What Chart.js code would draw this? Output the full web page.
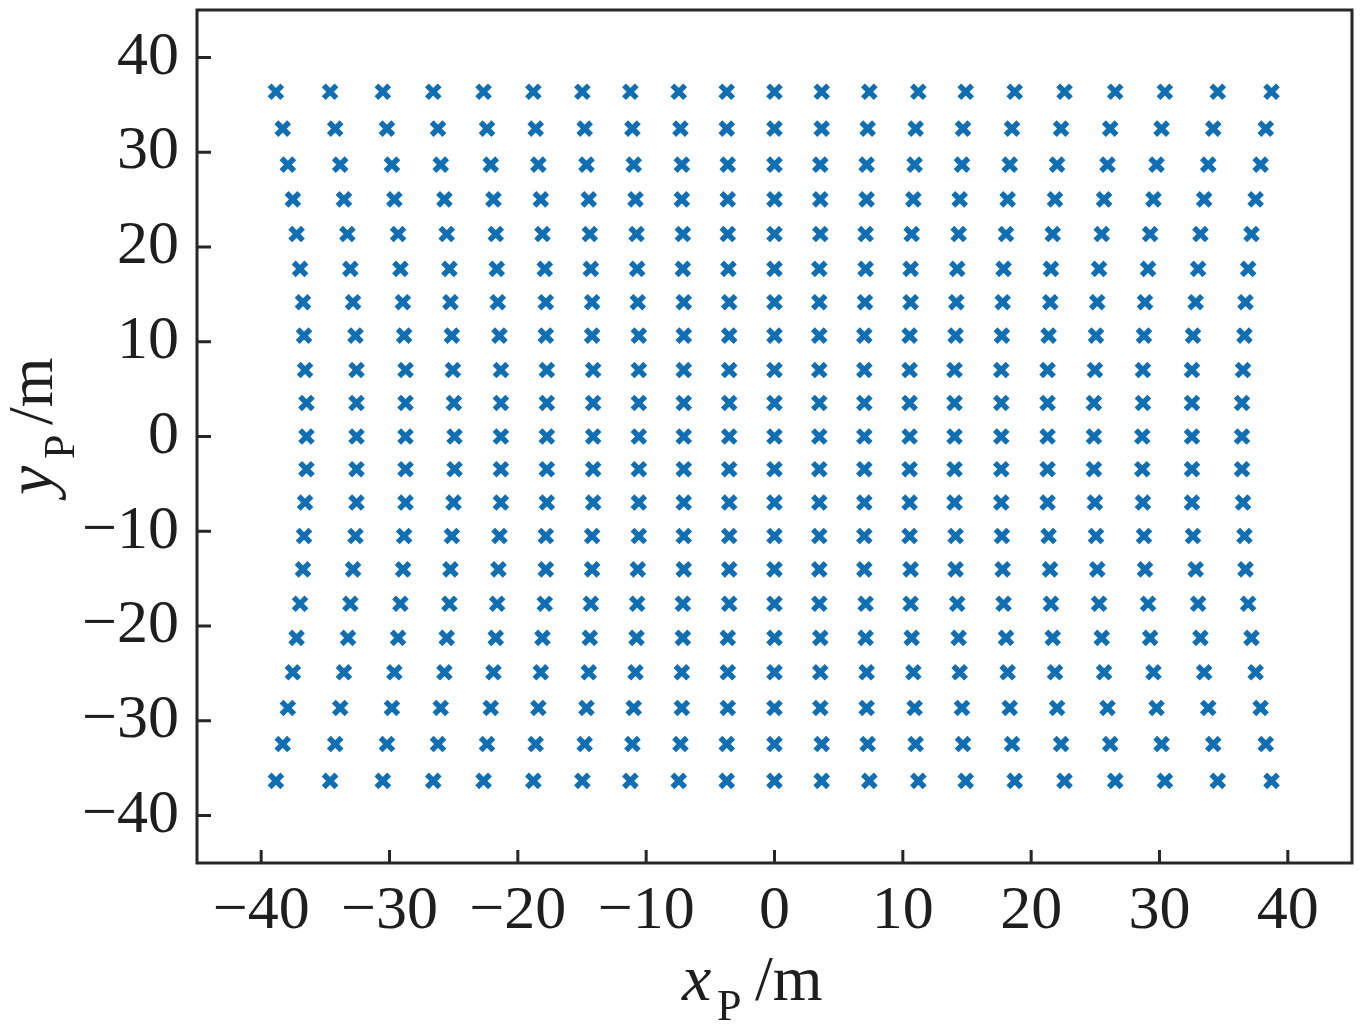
<!DOCTYPE html>
<html><head><meta charset="utf-8">
<script src="https://cdn.jsdelivr.net/npm/chart.js@4.4.1/dist/chart.umd.min.js"></script>
<style>html,body{margin:0;padding:0;background:#fff;} #wrap{width:1360px;height:1032px;position:relative;}</style>
</head><body><div id="wrap"><canvas id="c" width="1360" height="1032"></canvas></div>
<script>
// y_P level of each row of points (top to bottom), metres
const yLevels = [36.37, 32.49, 28.69, 25.02, 21.36, 17.69, 14.17, 10.64, 7.01, 3.53, 0,
                 -3.45, -6.97, -10.5, -14.02, -17.65, -21.25, -24.88, -28.64, -32.45, -36.33];
// x_P of the points in each row (left to right), metres
const xRow00 = [-38.85,-34.63,-30.52,-26.59,-22.67,-18.79,-14.97,-11.23,-7.46,-3.72,0,3.68,7.39,11.21,14.90,18.72,22.60,26.55,30.42,34.54,38.73];
const xRow01 = [-38.32,-34.23,-30.20,-26.22,-22.40,-18.61,-14.79,-11.07,-7.33,-3.72,0,3.68,7.26,11.00,14.69,18.51,22.33,26.16,30.16,34.19,38.28];
const xRow02 = [-37.92,-33.84,-29.81,-26.01,-22.11,-18.40,-14.65,-10.97,-7.22,-3.64,0,3.57,7.18,10.92,14.61,18.33,22.02,25.95,29.77,33.80,37.88];
const xRow03 = [-37.53,-33.55,-29.62,-25.72,-21.90,-18.21,-14.47,-10.83,-7.22,-3.64,0,3.57,7.18,10.82,14.43,18.17,21.86,25.68,29.53,33.48,37.49];
const xRow04 = [-37.24,-33.28,-29.33,-25.54,-21.72,-18.08,-14.39,-10.75,-7.14,-3.64,0,3.57,7.10,10.69,14.35,18.04,21.68,25.50,29.27,33.19,37.17];
const xRow05 = [-36.97,-33.05,-29.15,-25.33,-21.64,-17.90,-14.31,-10.70,-7.14,-3.59,0,3.49,7.10,10.61,14.24,17.85,21.54,25.29,29.11,33.01,36.91];
const xRow06 = [-36.74,-32.84,-28.96,-25.25,-21.56,-17.82,-14.21,-10.65,-7.07,-3.53,0,3.49,7.05,10.61,14.17,17.78,21.49,25.15,28.87,32.82,36.70];
const xRow07 = [-36.66,-32.65,-28.86,-25.14,-21.43,-17.82,-14.21,-10.57,-7.07,-3.53,0,3.49,7.00,10.53,14.11,17.72,21.36,25.05,28.79,32.61,36.62];
const xRow08 = [-36.58,-32.57,-28.75,-25.06,-21.32,-17.74,-14.13,-10.57,-7.07,-3.53,0,3.49,7.00,10.53,14.03,17.67,21.28,24.97,28.71,32.53,36.51];
const xRow09 = [-36.47,-32.57,-28.75,-24.98,-21.32,-17.74,-14.13,-10.57,-7.07,-3.53,0,3.49,7.00,10.53,14.03,17.67,21.28,24.89,28.71,32.53,36.43];
const xRow10 = [-36.47,-32.57,-28.75,-24.93,-21.32,-17.74,-14.13,-10.57,-7.07,-3.53,0,3.49,7.00,10.53,14.03,17.67,21.28,24.89,28.66,32.53,36.43];
const xRow11 = [-36.47,-32.57,-28.75,-24.93,-21.32,-17.74,-14.13,-10.57,-7.07,-3.53,0,3.49,7.00,10.53,14.03,17.67,21.28,24.89,28.66,32.53,36.43];
const xRow12 = [-36.58,-32.57,-28.75,-25.01,-21.32,-17.74,-14.13,-10.57,-7.07,-3.53,0,3.49,7.00,10.53,14.03,17.67,21.28,24.97,28.71,32.53,36.51];
const xRow13 = [-36.66,-32.65,-28.86,-25.14,-21.43,-17.82,-14.21,-10.57,-7.07,-3.53,0,3.49,7.00,10.53,14.11,17.72,21.36,25.05,28.79,32.61,36.62];
const xRow14 = [-36.74,-32.84,-28.94,-25.25,-21.51,-17.82,-14.21,-10.65,-7.07,-3.53,0,3.49,7.00,10.61,14.11,17.78,21.47,25.15,28.87,32.82,36.70];
const xRow15 = [-36.97,-33.05,-29.15,-25.33,-21.61,-17.90,-14.31,-10.70,-7.14,-3.53,0,3.49,7.10,10.61,14.24,17.85,21.54,25.29,29.11,33.01,36.91];
const xRow16 = [-37.24,-33.23,-29.33,-25.54,-21.72,-18.08,-14.39,-10.75,-7.14,-3.64,0,3.57,7.10,10.69,14.35,18.04,21.68,25.50,29.27,33.19,37.17];
const xRow17 = [-37.53,-33.55,-29.62,-25.72,-21.90,-18.21,-14.47,-10.83,-7.22,-3.64,0,3.57,7.18,10.82,14.43,18.17,21.86,25.68,29.53,33.48,37.49];
const xRow18 = [-37.92,-33.84,-29.81,-26.01,-22.11,-18.40,-14.65,-10.97,-7.22,-3.64,0,3.57,7.18,10.92,14.61,18.33,22.02,25.95,29.77,33.80,37.88];
const xRow19 = [-38.32,-34.23,-30.20,-26.22,-22.40,-18.61,-14.79,-11.07,-7.33,-3.72,0,3.68,7.26,11.00,14.69,18.51,22.33,26.16,30.16,34.19,38.28];
const xRow20 = [-38.85,-34.63,-30.52,-26.59,-22.67,-18.79,-14.97,-11.23,-7.46,-3.72,0,3.68,7.39,11.21,14.90,18.72,22.60,26.55,30.42,34.54,38.73];
const xRows = [xRow00,xRow01,xRow02,xRow03,xRow04,xRow05,xRow06,xRow07,xRow08,xRow09,xRow10,
               xRow11,xRow12,xRow13,xRow14,xRow15,xRow16,xRow17,xRow18,xRow19,xRow20];

const xTickValues = [-40,-30,-20,-10,0,10,20,30,40];
const yTickValues = [-40,-30,-20,-10,0,10,20,30,40];
const axisMin = -45, axisMax = 45;
const xTitle = ['x', 'P', '/m'];
const yTitle = ['y', 'P', '/m'];

const points = [];
yLevels.forEach((yv, i) => xRows[i].forEach(xv => points.push({x: xv, y: yv})));

const SERIF = '"Liberation Serif", "Times New Roman", serif';
const INK = '#1e1e1e';
const fmt = v => (v < 0 ? '\u2212' + Math.abs(v) : String(v));

const framePlugin = {
  id: 'frame',
  afterDraw(chart) {
    const {ctx, chartArea: a, scales: {x, y}} = chart;
    ctx.save();
    ctx.strokeStyle = '#262626';
    ctx.lineWidth = 3;
    ctx.lineCap = 'butt';
    ctx.strokeRect(a.left, a.top, a.right - a.left, a.bottom - a.top);
    ctx.beginPath();
    xTickValues.forEach(v => { const px = x.getPixelForValue(v); ctx.moveTo(px, a.bottom); ctx.lineTo(px, a.bottom - 13); });
    yTickValues.forEach(v => { const py = y.getPixelForValue(v); ctx.moveTo(a.left, py); ctx.lineTo(a.left + 14, py); });
    ctx.stroke();

    ctx.fillStyle = INK;
    ctx.textBaseline = 'alphabetic';
    ctx.textAlign = 'left';
    // x title
    ctx.font = 'italic 66px ' + SERIF;
    ctx.fillText(xTitle[0], 682, 1000);
    ctx.font = '44px ' + SERIF;
    ctx.fillText(xTitle[1], 717, 1020);
    ctx.font = '64px ' + SERIF;
    ctx.fillText(xTitle[2], 755, 1000);
    // y title (rotated)
    ctx.translate(52, 495);
    ctx.rotate(-Math.PI / 2);
    ctx.font = 'italic 66px ' + SERIF;
    ctx.fillText(yTitle[0], 0, 0);
    ctx.font = '44px ' + SERIF;
    ctx.fillText(yTitle[1], 36, 22);
    ctx.font = '64px ' + SERIF;
    ctx.fillText(yTitle[2], 70, 0);
    ctx.restore();
  }
};

new Chart(document.getElementById('c'), {
  type: 'scatter',
  data: {
    datasets: [{
      data: points,
      pointStyle: 'crossRot',
      pointRadius: 9,
      pointHoverRadius: 9,
      pointBorderWidth: 5.5,
      borderColor: '#106eb2',
      backgroundColor: '#106eb2',
      pointBorderColor: '#106eb2'
    }]
  },
  options: {
    responsive: false,
    animation: false,
    events: [],
    layout: {autoPadding: false, padding: {left: 0, top: 10, right: 8, bottom: 0}},
    plugins: {legend: {display: false}, tooltip: {enabled: false}},
    scales: {
      x: {
        type: 'linear', min: axisMin, max: axisMax,
        grid: {display: false, drawTicks: false},
        border: {display: false},
        afterBuildTicks: s => { s.ticks = xTickValues.map(v => ({value: v})); },
        afterFit: s => { s.height = 169; s.paddingLeft = 0; s.paddingRight = 0; },
        ticks: {callback: fmt, color: INK, padding: 12, maxRotation: 0, autoSkip: false,
                font: {family: SERIF, size: 62}}
      },
      y: {
        type: 'linear', min: axisMin, max: axisMax,
        grid: {display: false, drawTicks: false},
        border: {display: false},
        afterBuildTicks: s => { s.ticks = yTickValues.map(v => ({value: v})); },
        afterFit: s => { s.width = 197; s.paddingTop = 0; s.paddingBottom = 0; },
        ticks: {callback: fmt, color: INK, padding: 18, autoSkip: false,
                font: {family: SERIF, size: 62}}
      }
    }
  },
  plugins: [framePlugin]
});
</script>
</body></html>
